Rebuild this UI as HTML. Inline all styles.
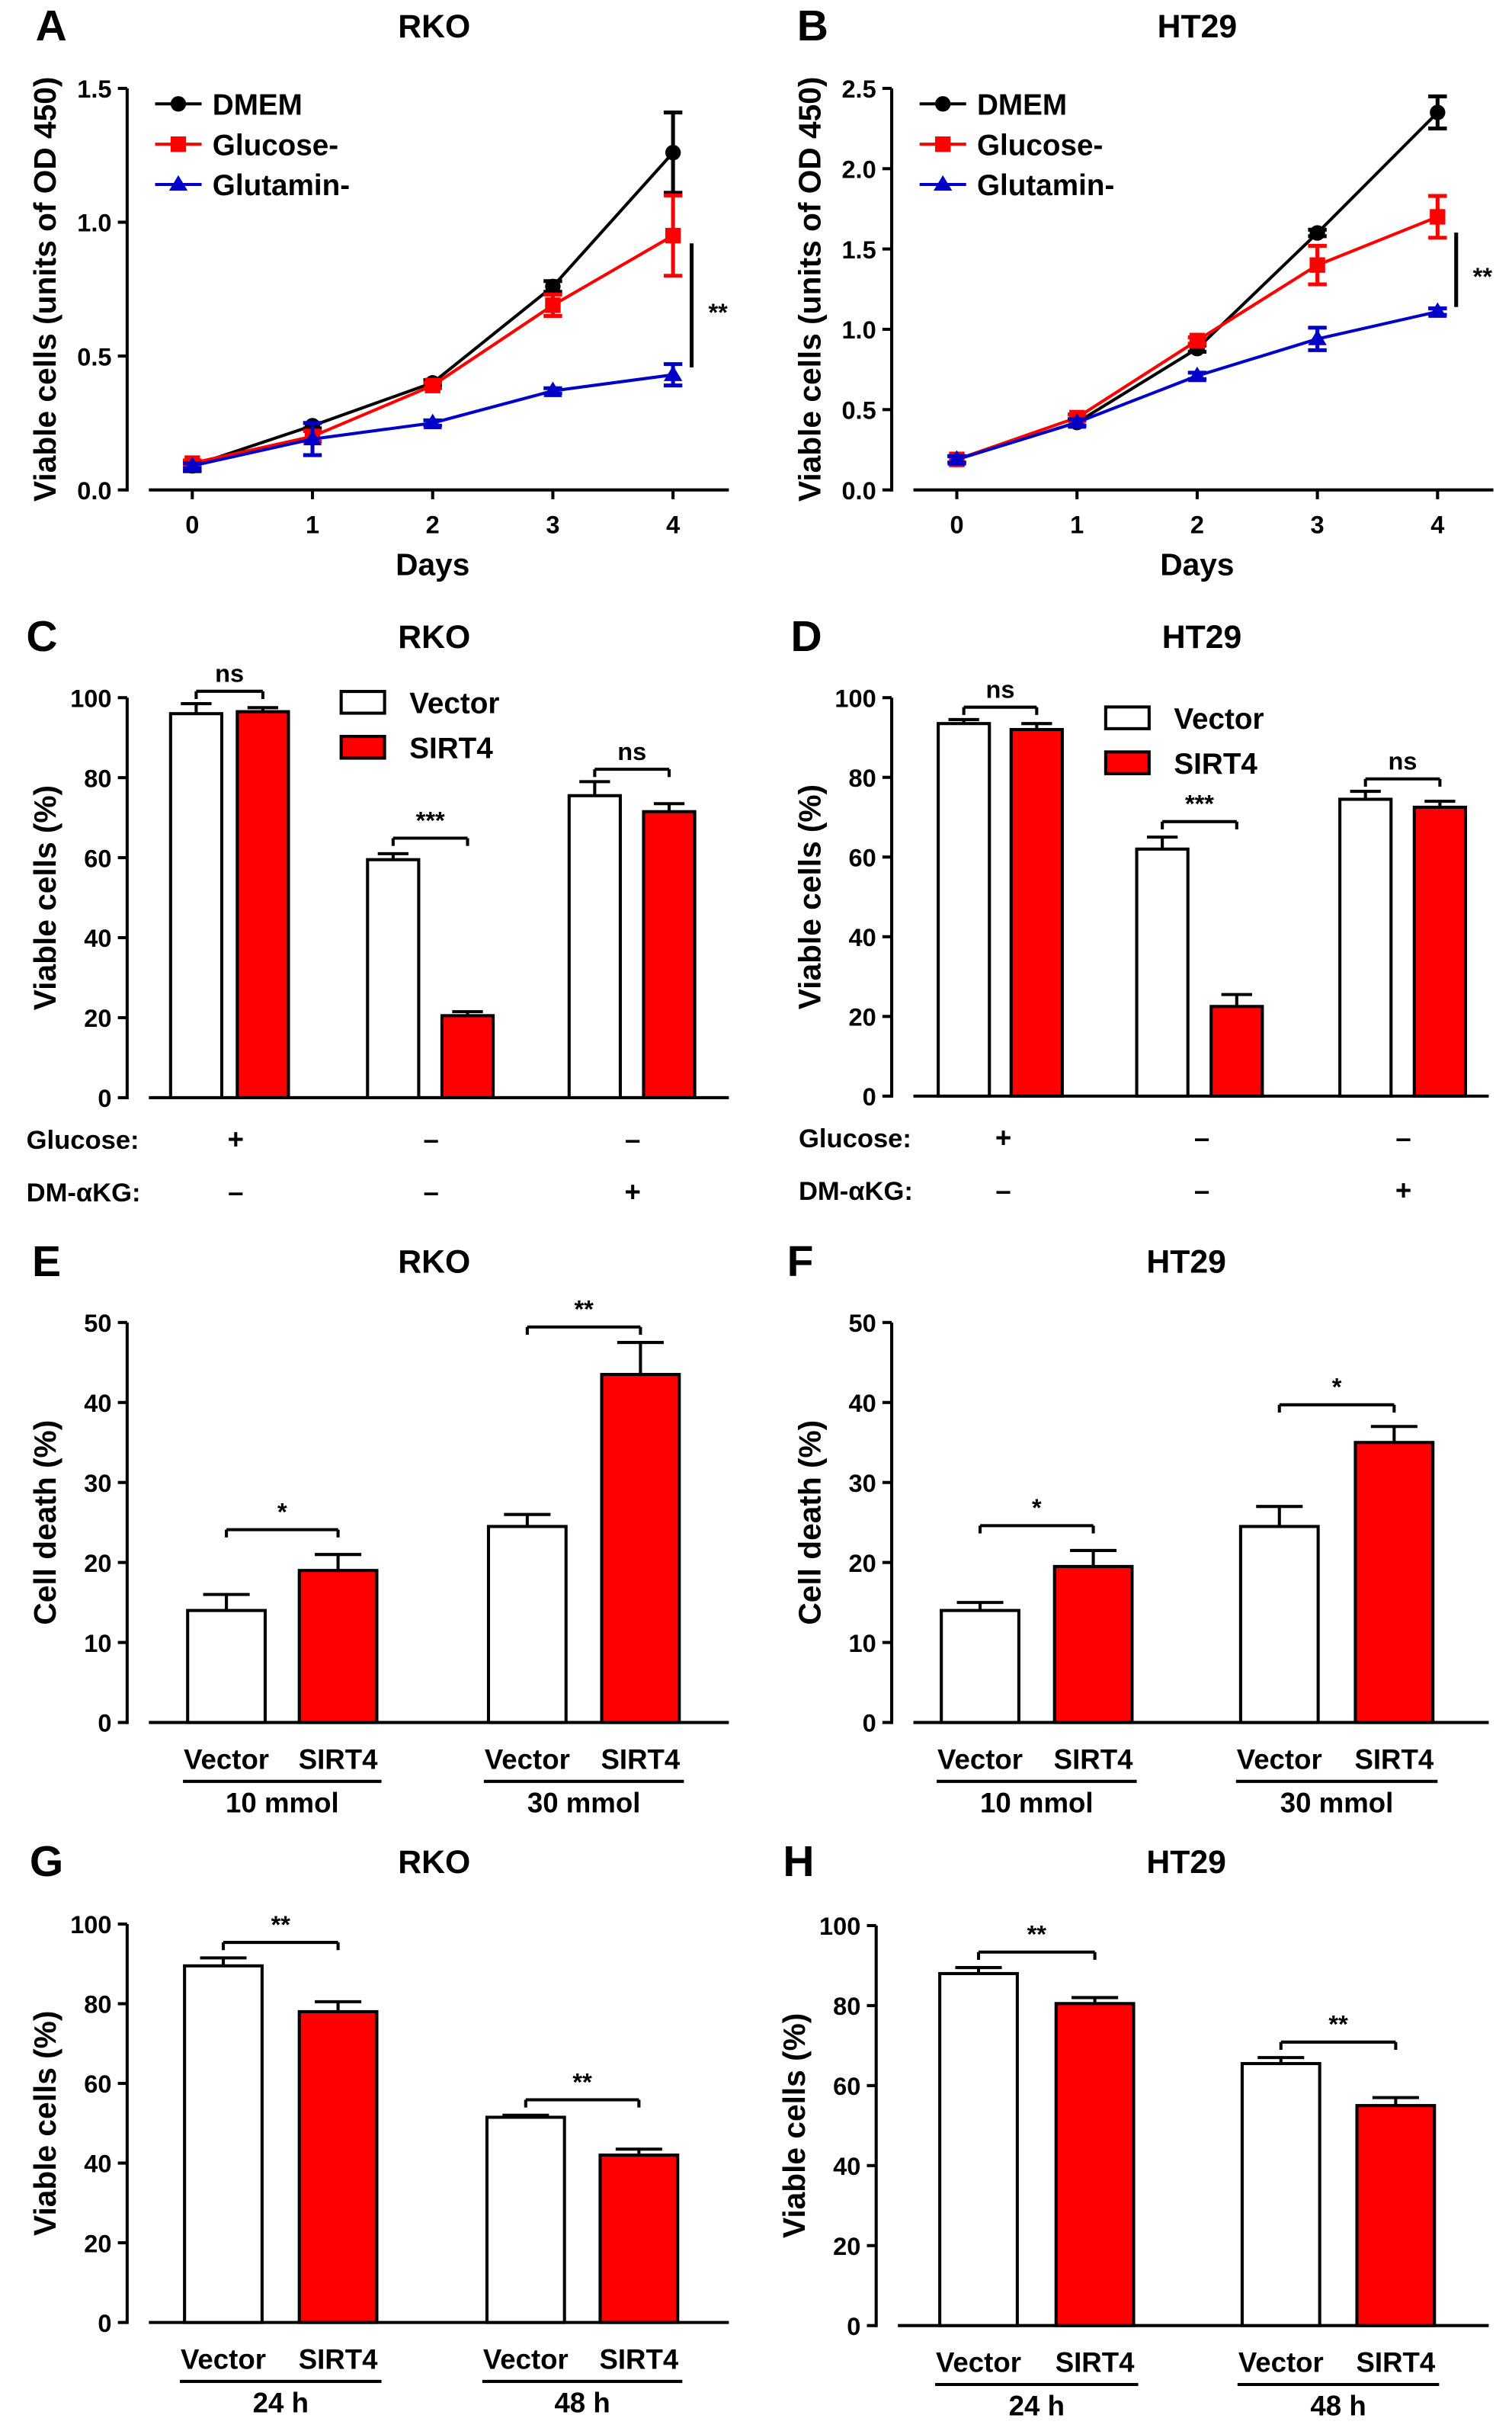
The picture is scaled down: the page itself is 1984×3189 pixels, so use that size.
<!DOCTYPE html>
<html><head><meta charset="utf-8"><style>
html,body{margin:0;padding:0;background:#fff}
svg{display:block}
text{font-family:"Liberation Sans",Arial,sans-serif;font-weight:bold;fill:#000}
</style></head><body>
<svg id="fig" width="1984" height="3189" viewBox="0 0 975 1568" preserveAspectRatio="none" xmlns="http://www.w3.org/2000/svg"></svg>
<script>
// ---- data ----
const daysA = [0,1,2,3,4];
const rkoDMEM = [0.09,0.24,0.40,0.76,1.26];
const rkoDMEMErr = [0.02,0.01,0.01,0.02,0.15];
const rkoGlc = [0.10,0.20,0.39,0.69,0.95];
const rkoGlcErr = [0.01,0.02,0.01,0.04,0.15];
const rkoGln = [0.09,0.19,0.25,0.37,0.43];
const rkoGlnErr = [0.01,0.06,0.01,0.01,0.04];
const htDMEM = [0.19,0.42,0.88,1.60,2.35];
const htDMEMErr = [0.02,0.02,0.02,0.02,0.10];
const htGlc = [0.19,0.45,0.93,1.40,1.70];
const htGlcErr = [0.02,0.02,0.02,0.12,0.13];
const htGln = [0.19,0.42,0.71,0.94,1.11];
const htGlnErr = [0.02,0.02,0.02,0.07,0.02];
const ticksA = [0,0.5,1.0,1.5];
const ticksB = [0,0.5,1.0,1.5,2.0,2.5];
const ticks100 = [0,20,40,60,80,100];
const ticks50 = [0,10,20,30,40,50];
const cVec = [96,59.5,75.5], cVecErr=[2.5,1.5,3.5], cSir=[96.5,20.5,71.5], cSirErr=[1,1,2];
const dVec = [93.5,62,74.5], dVecErr=[1,3,2], dSir=[92,22.5,72.5], dSirErr=[1.5,3,1.5];
const eVec = [14,24.5], eVecErr=[2,1.5], eSir=[19,43.5], eSirErr=[2,4];
const fVec = [14,24.5], fVecErr=[1,2.5], fSir=[19.5,35], fSirErr=[2,2];
const gVec = [89.5,51.5], gVecErr=[2,0.5], gSir=[78,42], gSirErr=[2.5,1.5];
const hVec = [88,65.5], hVecErr=[1.5,1.5], hSir=[80.5,55], hSirErr=[1.5,2];
const glucoseSigns = ['+','-','-'], akgSigns = ['-','-','+'];

const NS='http://www.w3.org/2000/svg', svg=document.getElementById('fig');
function el(tag,attrs,parent,txt){const e=document.createElementNS(NS,tag);for(const k in attrs)e.setAttribute(k,attrs[k]);if(txt!==undefined)e.textContent=txt;(parent||svg).appendChild(e);return e;}
function line(g,x1,y1,x2,y2,w,c){return el('line',{x1,y1,x2,y2,stroke:c||'#000','stroke-width':w||2},g);}
function txt(g,x,y,s,size,anchor,rot){const a={x,y,'font-size':size,'text-anchor':anchor||'middle'};if(rot)a.transform=`rotate(-90 ${x} ${y})`;return el('text',a,g,s);}

function yAxis(g,ax,y0,y1,vmax,ticks,fmt,title,titleX){
  const sy=v=>y0-(y0-y1)*v/vmax;
  line(g,ax,y0+1,ax,sy(ticks[ticks.length-1]),2);
  ticks.forEach(t=>{line(g,ax-6,sy(t),ax,sy(t),2);const l=txt(g,ax-10,sy(t)+6,fmt(t),16,'end');});
  const tt=txt(g,titleX,(y0+y1)/2,title,20,'middle',true);
  
  return sy;
}
function header(g,letter,lx,title,tx,y){
  const a=txt(g,lx,y,letter,28,'middle');
  const b=txt(g,tx,y-2,title,21,'middle');
}

function linePanel(o){
  const g=el('g',{},svg);
  header(g,o.letter,o.lx,o.title,o.tx,o.ty);
  const sy=yAxis(g,o.ax,o.y0,o.y1,o.vmax,o.ticks,t=>t.toFixed(1),'Viable cells (units of OD 450)',o.ax-46);
  const sx=d=>o.x0+(o.x4-o.x0)*d/4;
  line(g,o.ax+14,o.y0,o.x4+36,o.y0,2);
  daysA.forEach(d=>{line(g,sx(d),o.y0,sx(d),o.y0+6,2);txt(g,sx(d),o.y0+28,String(d),16);});
  const xt=txt(g,(o.x0+o.x4)/2,o.y0+55,'Days',20);
  const series=[[o.dm,o.dmE,'#000','circle','DMEM'],[o.gl,o.glE,'#f00','square','Glucose-'],[o.gn,o.gnE,'#0000c8','tri','Glutamin-']];
  series.forEach((s,i)=>{
    const sg=el('g',{},g);
    el('polyline',{points:s[0].map((v,j)=>sx(daysA[j])+','+sy(v)).join(' '),fill:'none',stroke:s[2],'stroke-width':2},sg);
    s[0].forEach((v,j)=>{
      const x=sx(daysA[j]),e=s[1][j];
      line(sg,x,sy(v+e),x,sy(v-e),2.5,s[2]);line(sg,x-6,sy(v+e),x+6,sy(v+e),2.5,s[2]);line(sg,x-6,sy(v-e),x+6,sy(v-e),2.5,s[2]);
      marker(sg,s[3],x,sy(v),s[2]);
    });
    const ly=o.y1+10+i*26;
    line(g,o.ax+18,ly,o.ax+48,ly,2,s[2]);marker(g,s[3],o.ax+33,ly,s[2]);
    const lt=txt(g,o.ax+55,ly+7,s[4],19,'start');
  });
  line(g,o.sigX,o.sigTop,o.sigX,o.sigBot,2.5);txt(g,o.sigX+17,(o.sigTop+o.sigBot)/2+10,'**',16);
}
function marker(g,t,x,y,c){
  if(t==='circle')el('circle',{cx:x,cy:y,r:5,fill:c},g);
  else if(t==='square')el('rect',{x:x-5,y:y-5,width:10,height:10,fill:c},g);
  else el('polygon',{points:`${x},${y-6} ${x-6},${y+4} ${x+6},${y+4}`,fill:c},g);
}

function bar(g,x,w,sy,v,e,red,nm){
  const b=el('rect',{x,y:sy(v),width:w,height:sy(0)-sy(v),fill:red?'#f00':'#fff',stroke:'#000','stroke-width':2},g);
  
  const cx=x+w/2;line(g,cx,sy(v),cx,sy(v+e),2);line(g,cx-w*0.3,sy(v+e),cx+w*0.3,sy(v+e),2);
}
function sig(g,x1,x2,y,s){line(g,x1,y,x2,y,2);line(g,x1,y,x1,y+5,2);line(g,x2,y,x2,y+5,2);txt(g,(x1+x2)/2,y-6,s,16);}

function barPanel(o){
  const g=el('g',{},svg);
  header(g,o.letter,o.lx,o.title,o.tx,o.ty);
  const sy=yAxis(g,o.ax,o.y0,o.y1,o.vmax,o.ticks,t=>String(t),o.ytitle,o.ax-46);
  line(g,o.ax+14,o.y0,o.xend,o.y0,2);
  o.vec.forEach((v,i)=>{
    bar(g,o.vx[i],o.w,sy,v,o.vecE[i],false,'bar-vector-'+(i+1));
    bar(g,o.sx[i],o.w,sy,o.sir[i],o.sirE[i],true,'bar-sirt4-'+(i+1));
    const hi=Math.max(v+o.vecE[i],o.sir[i]+o.sirE[i]);
    sig(g,o.vx[i]+o.w/2,o.sx[i]+o.w/2,sy(hi)-o.sigGap[i],o.sigs[i]);
    if(o.groups){
      const a=txt(g,o.vx[i]+o.w/2,o.y0+30,'Vector',18);
      const b=txt(g,o.sx[i]+o.w/2,o.y0+30,'SIRT4',18);
      line(g,o.vx[i]-3,o.y0+38,o.sx[i]+o.w+3,o.y0+38,2);
      const c=txt(g,(o.vx[i]+o.sx[i]+o.w)/2,o.y0+58,o.groups[i],18);
    }
  });
  if(o.legend){
    const lg=el('g',{},g);
    el('rect',{x:o.legend[0],y:o.legend[1]-7,width:28,height:14,fill:'#fff',stroke:'#000','stroke-width':2},lg);
    txt(lg,o.legend[0]+44,o.legend[1]+7,'Vector',19,'start');
    el('rect',{x:o.legend[0],y:o.legend[1]+o.legend[2]-7,width:28,height:14,fill:'#f00',stroke:'#000','stroke-width':2},lg);
    txt(lg,o.legend[0]+44,o.legend[1]+o.legend[2]+7,'SIRT4',19,'start');
  }
  if(o.signs){
    const l1=txt(g,o.signX,o.y0+33,'Glucose:',17,'start');
    const l2=txt(g,o.signX,o.y0+67,'DM-αKG:',17,'start');
    glucoseSigns.forEach((s,i)=>txt(g,o.signPos[i],o.y0+33,s==='-'?'–':'+',18));
    akgSigns.forEach((s,i)=>txt(g,o.signPos[i],o.y0+67,s==='-'?'–':'+',18));
  }
}

linePanel({name:'panel-a',letter:'A',lx:33,title:'RKO',tx:280,ty:26,ax:82,y0:316,y1:57,vmax:1.5,ticks:ticksA,x0:124,x4:434,
  dm:rkoDMEM,dmE:rkoDMEMErr,gl:rkoGlc,glE:rkoGlcErr,gn:rkoGln,gnE:rkoGlnErr,sigX:446,sigTop:157,sigBot:237});
linePanel({name:'panel-b',letter:'B',lx:524,title:'HT29',tx:772,ty:26,ax:575,y0:316,y1:57,vmax:2.5,ticks:ticksB,x0:617,x4:927,
  dm:htDMEM,dmE:htDMEMErr,gl:htGlc,glE:htGlcErr,gn:htGln,gnE:htGlnErr,sigX:939,sigTop:150,sigBot:198});

barPanel({name:'panel-c',letter:'C',lx:27,title:'RKO',tx:280,ty:420,ax:82,y0:708,y1:450,vmax:100,ticks:ticks100,ytitle:'Viable cells (%)',xend:470,
  vec:cVec,vecE:cVecErr,sir:cSir,sirE:cSirErr,vx:[110,237,367],sx:[153,285,415],w:33,sigs:['ns','***','ns'],sigGap:[8,10,8],
  legend:[220,453,29],signs:true,signX:17,signPos:[152,278,408]});
barPanel({name:'panel-d',letter:'D',lx:520,title:'HT29',tx:775,ty:420,ax:575,y0:707,y1:450,vmax:100,ticks:ticks100,ytitle:'Viable cells (%)',xend:960,
  vec:dVec,vecE:dVecErr,sir:dSir,sirE:dSirErr,vx:[605,733,864],sx:[652,781,912],w:33,sigs:['ns','***','ns'],sigGap:[8,10,8],
  legend:[713,463,29],signs:true,signX:515,signPos:[647,775,905]});
barPanel({name:'panel-e',letter:'E',lx:30,title:'RKO',tx:280,ty:823,ax:82,y0:1111,y1:853,vmax:50,ticks:ticks50,ytitle:'Cell death (%)',xend:470,
  vec:eVec,vecE:eVecErr,sir:eSir,sirE:eSirErr,vx:[121,315],sx:[193,388],w:50,sigs:['*','**'],sigGap:[16,10],groups:['10 mmol','30 mmol']});
barPanel({name:'panel-f',letter:'F',lx:516,title:'HT29',tx:765,ty:823,ax:575,y0:1111,y1:853,vmax:50,ticks:ticks50,ytitle:'Cell death (%)',xend:960,
  vec:fVec,vecE:fVecErr,sir:fSir,sirE:fSirErr,vx:[607,800],sx:[680,874],w:50,sigs:['*','*'],sigGap:[16,14],groups:['10 mmol','30 mmol']});
barPanel({name:'panel-g',letter:'G',lx:30,title:'RKO',tx:280,ty:1210,ax:82,y0:1498,y1:1241,vmax:100,ticks:ticks100,ytitle:'Viable cells (%)',xend:470,
  vec:gVec,vecE:gVecErr,sir:gSir,sirE:gSirErr,vx:[119,314],sx:[193,387],w:50,sigs:['**','**'],sigGap:[10,10],groups:['24 h','48 h']});
barPanel({name:'panel-h',letter:'H',lx:515,title:'HT29',tx:765,ty:1210,ax:565,y0:1500,y1:1242,vmax:100,ticks:ticks100,ytitle:'Viable cells (%)',xend:960,
  vec:hVec,vecE:hVecErr,sir:hSir,sirE:hSirErr,vx:[606,801],sx:[681,875],w:50,sigs:['**','**'],sigGap:[10,10],groups:['24 h','48 h']});
</script>
</body></html>
